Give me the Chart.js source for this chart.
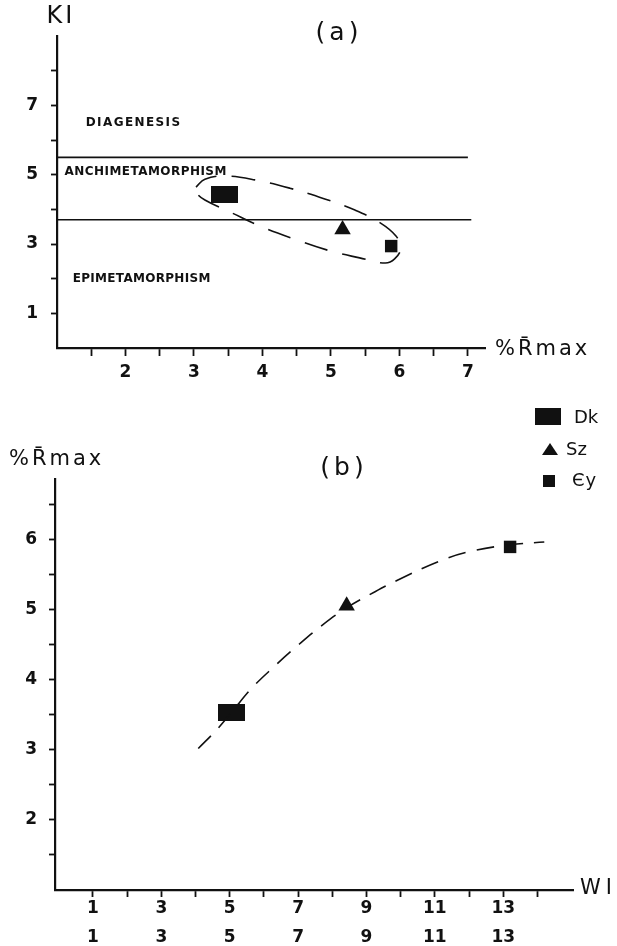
<!DOCTYPE html>
<html>
<head>
<meta charset="utf-8">
<script src="https://cdn.jsdelivr.net/npm/chart.js@4/dist/chart.umd.min.js"></script>
<style>
  html, body { margin: 0; padding: 0; background: #fff; }
  #wrap { position: relative; width: 617px; height: 946px; }
  canvas { position: absolute; left: 0; }
  #chartA { top: 0; }
  #chartB { top: 400px; }
</style>
</head>
<body>
<div id="wrap">
  <canvas id="chartA" width="617" height="400"></canvas>
  <canvas id="chartB" width="617" height="546"></canvas>
</div>
<script>
// ── Data ──
const SAMPLES = ['Dk', 'Sz', 'Єy'];

// Panel (a): illite crystallinity (KI) against %Rmax
const A_RMAX = [3.44, 5.17, 5.88];
const A_KI = [4.42, 3.42, 2.94];
const A_BOUND_KI = [5.5, 3.7];
const A_BOUND_XEND = [7.0, 7.05];
const A_ZONES = ['DIAGENESIS', 'ANCHIMETAMORPHISM', 'EPIMETAMORPHISM'];
const A_ZONE_X = [1.42, 1.11, 1.23];
const A_ZONE_KI = [6.49, 5.09, 1.99];
// dashed envelope round the samples
const A_ENV_X = [3.03, 3.16, 3.45, 3.89, 4.40, 4.91, 5.35, 5.72, 5.95, 6.02, 5.93, 5.79, 5.42, 4.99, 4.47, 3.96, 3.53, 3.16, 3.04, 3.03];
const A_ENV_KI = [4.64, 4.87, 4.96, 4.85, 4.61, 4.30, 3.98, 3.61, 3.23, 2.88, 2.57, 2.45, 2.60, 2.80, 3.14, 3.52, 3.92, 4.27, 4.47, 4.64];
const A_X_TICKS = [1.5, 2, 2.5, 3, 3.5, 4, 4.5, 5, 5.5, 6, 6.5, 7];
const A_X_LABELS = [2, 3, 4, 5, 6, 7];
const A_Y_TICKS = [1, 2, 3, 4, 5, 6, 7, 8];
const A_Y_LABELS = [1, 3, 5, 7];

// Panel (b): %Rmax against WI
const B_WI = [5.06, 8.42, 13.2];
const B_RMAX = [3.54, 5.06, 5.90];
const B_TREND_WI = [4.08, 4.64, 5.06, 5.64, 6.32, 6.96, 7.70, 8.45, 9.25, 9.89, 11.15, 12.07, 13.2, 14.2];
const B_TREND_RMAX = [3.02, 3.30, 3.54, 3.88, 4.20, 4.48, 4.78, 5.04, 5.26, 5.42, 5.70, 5.84, 5.93, 5.97];
const B_X_TICKS = [1, 2, 3, 4, 5, 6, 7, 8, 9, 10, 11, 12, 13, 14];
const B_X_LABELS = [1, 3, 5, 7, 9, 11, 13];
const B_Y_TICKS = [1.5, 2, 2.5, 3, 3.5, 4, 4.5, 5, 5.5, 6, 6.5];
const B_Y_LABELS = [2, 3, 4, 5, 6];

// ── Style ──
const INK = '#111';
const FONT = "'DejaVu Sans', sans-serif";

function block(w, h) {
  const c = document.createElement('canvas');
  c.width = w; c.height = h;
  const g = c.getContext('2d');
  g.fillStyle = INK;
  g.fillRect(0, 0, w, h);
  return c;
}
const MARKERS = [block(27, 17), 'triangle', 'rect'];
const MARKER_R = [10, 9.5, 8.8];

function text(ctx, str, x, y, font, spacing, align) {
  ctx.save();
  ctx.fillStyle = INK;
  ctx.font = font;
  ctx.letterSpacing = (spacing || 0) + 'px';
  ctx.textAlign = align || 'left';
  ctx.textBaseline = 'middle';
  ctx.fillText(str, x, y);
  ctx.restore();
}

function axisOpts(min, max, tickVals, labelVals, tickLen, pad, fitKey, fitVal, twoRows) {
  return {
    type: 'linear', min, max,
    afterBuildTicks: s => { s.ticks = tickVals.map(v => ({ value: v })); },
    afterFit: s => { s[fitKey] = fitVal; },
    border: { display: true, color: INK, width: 2.2 },
    grid: { drawOnChartArea: false, drawTicks: true, tickLength: tickLen, tickWidth: 1.8, tickColor: INK },
    ticks: {
      autoSkip: false, maxRotation: 0, padding: pad, color: INK,
      font: { family: FONT, size: 17, weight: 'bold', lineHeight: twoRows ? 1.7 : 1.2 },
      callback: v => labelVals.includes(v) ? (twoRows ? [String(v), String(v)] : String(v)) : ''
    }
  };
}

const sampleSets = (xs, ys) => SAMPLES.map((s, i) => ({
  label: s,
  data: [{ x: xs[i], y: ys[i] }],
  pointStyle: MARKERS[i],
  pointRadius: MARKER_R[i],
  backgroundColor: INK,
  borderWidth: 0
}));

// ── Panel (a) ──
new Chart(document.getElementById('chartA'), {
  type: 'scatter',
  data: {
    datasets: [
      ...A_BOUND_KI.map((k, i) => ({
        data: [{ x: 1, y: k }, { x: A_BOUND_XEND[i], y: k }],
        showLine: true, borderColor: INK, borderWidth: 1.7, pointRadius: 0
      })),
      {
        data: A_ENV_X.map((x, i) => ({ x, y: A_ENV_KI[i] })),
        showLine: true, tension: 0.4, borderDash: [24, 15],
        borderColor: INK, borderWidth: 1.6, pointRadius: 0
      },
      ...sampleSets(A_RMAX, A_KI)
    ]
  },
  options: {
    responsive: false, animation: false, devicePixelRatio: 1,
    layout: { padding: { left: 0, top: 36, right: 132, bottom: 0 } },
    plugins: { legend: { display: false }, tooltip: { enabled: false } },
    scales: {
      x: axisOpts(1, 7.25, A_X_TICKS, A_X_LABELS, 8, 6, 'height', 52),
      y: axisOpts(0, 9, A_Y_TICKS, A_Y_LABELS, 6, 13, 'width', 57)
    }
  },
  plugins: [{
    id: 'labelsA',
    afterDatasetsDraw(chart) {
      const { ctx, chartArea: ca, scales: { x, y } } = chart;
      const spacing = [1.4, 0.45, 0.3];
      A_ZONES.forEach((z, i) => {
        text(ctx, z, x.getPixelForValue(A_ZONE_X[i]), y.getPixelForValue(A_ZONE_KI[i]),
          'bold 12px ' + FONT, spacing[i]);
      });
      text(ctx, 'KI', ca.left + 4, ca.top - 19, '24px ' + FONT, 3, 'center');
      text(ctx, '(a)', 339, 33, '25px ' + FONT, 4, 'center');
      text(ctx, '%R\u0304max', ca.right + 10, ca.bottom + 2, '21px ' + FONT, 3);
    }
  }]
});

// ── Panel (b) ──
new Chart(document.getElementById('chartB'), {
  type: 'scatter',
  data: {
    datasets: [
      {
        data: B_TREND_WI.map((x, i) => ({ x, y: B_TREND_RMAX[i] })),
        showLine: true, tension: 0.4, borderDash: [18, 11],
        borderColor: INK, borderWidth: 1.6, pointRadius: 0
      },
      ...sampleSets(B_WI, B_RMAX)
    ]
  },
  options: {
    responsive: false, animation: false, devicePixelRatio: 1,
    layout: { padding: { left: 0, top: 79, right: 44, bottom: 0 } },
    plugins: { legend: { display: false }, tooltip: { enabled: false } },
    scales: {
      x: axisOpts(-0.11, 15.04, B_X_TICKS, B_X_LABELS, 7, -3, 'height', 56, true),
      y: axisOpts(1, 6.87, B_Y_TICKS, B_Y_LABELS, 6, 12, 'width', 55)
    }
  },
  plugins: [{
    id: 'labelsB',
    afterDatasetsDraw(chart) {
      const { ctx, chartArea: ca } = chart;
      text(ctx, '%R\u0304max', 9, 60, '21px ' + FONT, 3);
      text(ctx, '(b)', 344, 68, '25px ' + FONT, 4, 'center');
      text(ctx, 'WI', ca.right + 7, ca.bottom - 1, '21px ' + FONT, 5);

      // legend, top right
      ctx.save();
      ctx.fillStyle = INK;
      ctx.drawImage(MARKERS[0], 535, 8, 26, 17);
      ctx.beginPath();
      ctx.moveTo(550, 43); ctx.lineTo(558, 55); ctx.lineTo(542, 55);
      ctx.closePath(); ctx.fill();
      ctx.fillRect(543, 75, 12, 12);
      ctx.restore();
      text(ctx, 'Dk', 574, 18, '18px ' + FONT, 0);
      text(ctx, 'Sz', 566, 50, '18px ' + FONT, 0);
      text(ctx, SAMPLES[2], 572, 81, '18px ' + FONT, 1);
    }
  }]
});
</script>
</body>
</html>
